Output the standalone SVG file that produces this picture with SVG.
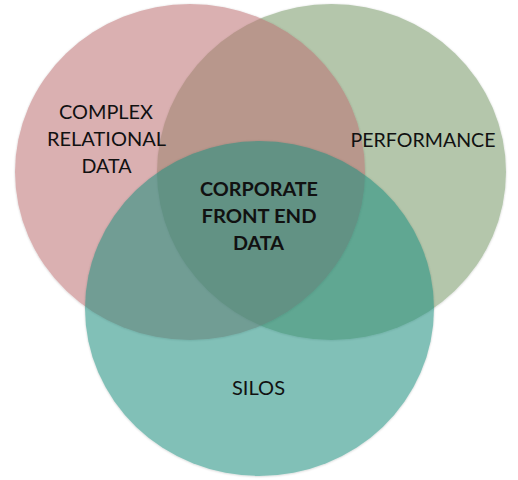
<svg xmlns="http://www.w3.org/2000/svg" width="518" height="480" viewBox="0 0 518 480">
  <defs>
    <filter id="soft" x="-10%" y="-10%" width="120%" height="120%">
      <feDropShadow dx="0" dy="0.5" stdDeviation="1.2" flood-color="#000000" flood-opacity="0.35"/>
    </filter>
    <style>
      .set { opacity: 0.55; }
      .lbl { font-family: Lato, "Open Sans", "Liberation Sans", sans-serif; font-size: 19px; fill: #111111; text-anchor: middle; }
      .core { font-family: Lato, "Open Sans", "Liberation Sans", sans-serif; font-size: 18.5px; font-weight: bold; fill: #111111; text-anchor: middle; }
    </style>
  </defs>
  <rect width="518" height="480" fill="#ffffff"/>
  <g id="performance" class="set">
    <ellipse cx="331.5" cy="172" rx="174.5" ry="168" fill="#779968" filter="url(#soft)"/>
  </g>
  <g id="complex-relational-data" class="set">
    <ellipse cx="190" cy="172" rx="175" ry="168" fill="#bd7173" filter="url(#soft)"/>
  </g>
  <g id="silos" class="set">
    <ellipse cx="259.5" cy="308.5" rx="174.5" ry="167.5" fill="#1f8e7e" filter="url(#soft)"/>
  </g>
  <g id="connectors"></g>
  <g id="labels">
    <text class="lbl" x="106" y="119" textLength="94" lengthAdjust="spacingAndGlyphs">COMPLEX</text>
    <text class="lbl" x="106.5" y="146" textLength="119" lengthAdjust="spacingAndGlyphs">RELATIONAL</text>
    <text class="lbl" x="106.5" y="172.5" textLength="50" lengthAdjust="spacingAndGlyphs">DATA</text>
    <text class="lbl" x="423" y="146.5" textLength="145" lengthAdjust="spacingAndGlyphs">PERFORMANCE</text>
    <text class="lbl" x="258.5" y="395" textLength="53" lengthAdjust="spacingAndGlyphs">SILOS</text>
    <text class="core" x="259" y="196" textLength="118" lengthAdjust="spacingAndGlyphs">CORPORATE</text>
    <text class="core" x="259" y="223" textLength="115" lengthAdjust="spacingAndGlyphs">FRONT END</text>
    <text class="core" x="258.5" y="250" textLength="51" lengthAdjust="spacingAndGlyphs">DATA</text>
  </g>
</svg>
